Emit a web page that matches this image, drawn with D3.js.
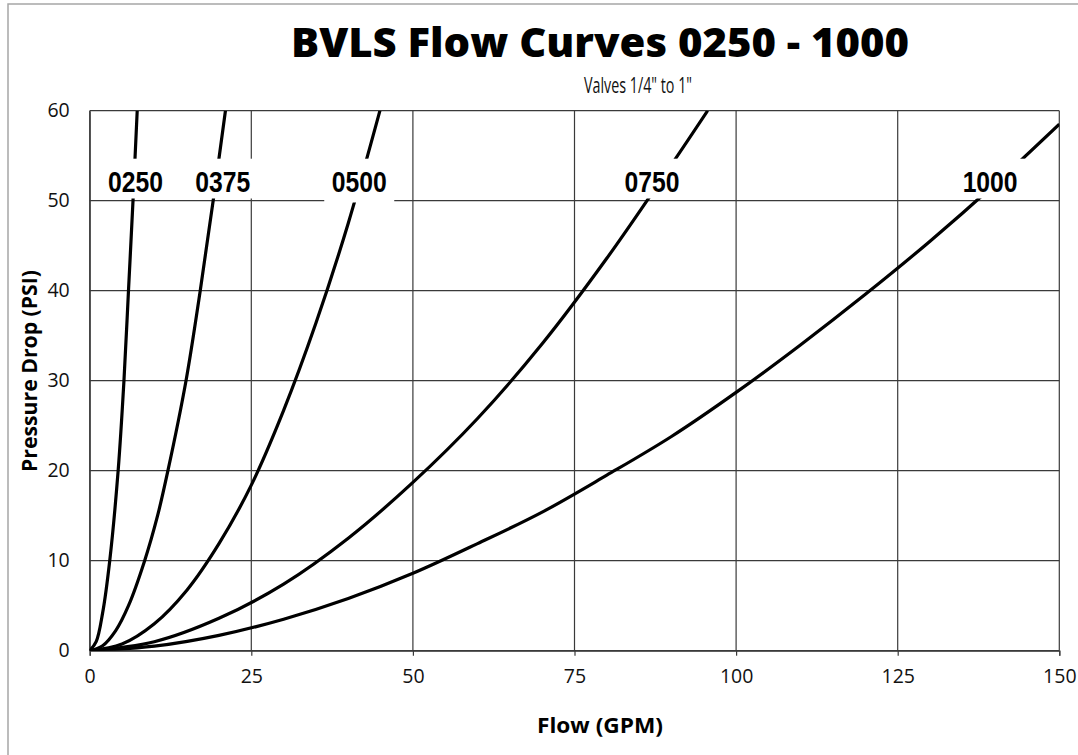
<!DOCTYPE html>
<html>
<head>
<meta charset="utf-8">
<script src="https://cdn.jsdelivr.net/npm/d3@7"></script>
<style>
  html, body { margin: 0; padding: 0; background: #fff; }
  svg { display: block; }
</style>
</head>
<body>
<svg id="chart" width="1078" height="755"></svg>
<script>
// ---------- data ----------
const xTicks = [0, 25, 50, 75, 100, 125, 150];
const yTicks = [0, 10, 20, 30, 40, 50, 60];

const valveNames = ["0250", "0375", "0500", "0750", "1000"];

// flow (GPM) / pressure drop (PSI)
const flow0250 = [0, 1, 2, 3.1, 4.4, 5.3, 6.0, 6.7, 7.35];
const psi0250  = [0, 1.0, 4.2, 10, 20, 30, 40, 50, 60];

const flow0375 = [0, 2, 4, 6, 8.5, 10.5, 12.1, 14.9, 17.1, 19.1, 21.0];
const psi0375  = [0, 0.55, 2.2, 5.0, 10, 15, 20, 30, 40, 50, 60];

const flow0500 = [0, 5, 10, 15, 20, 25, 30, 35, 40, 44.9];
const psi0500  = [0, 0.75, 3.0, 6.7, 11.9, 18.4, 26.7, 36.4, 47.5, 60];

const flow0750 = [0, 10, 20, 30, 40, 50, 60, 70, 80, 90, 95.6];
const psi0750  = [0, 1.0, 3.6, 7.4, 12.5, 18.7, 25.8, 34.1, 43.6, 54, 60];

const flow1000 = [0, 10, 20, 30, 40, 50, 60, 70, 80, 90, 100, 110, 120, 130, 140, 150];
const psi1000  = [0, 0.5, 1.7, 3.5, 5.8, 8.6, 11.9, 15.4, 19.5, 23.8, 28.7, 34.0, 39.6, 45.5, 51.8, 58.5];

// label anchors (in data units: flow, psi)
const labelFlow = [7.1, 20.6, 41.7, 87.0, 139.3];
const labelPsi  = [51, 51, 51, 51, 51];

const titleText = "BVLS Flow Curves 0250 - 1000";
const subtitleText = "Valves 1/4\" to 1\"";
const xTitle = "Flow (GPM)";
const yTitle = "Pressure Drop (PSI)";

// ---------- layout ----------
const svg = d3.select("#chart");
const plot = { left: 89.7, right: 1059.3, top: 110.7, bottom: 650.7 };

const x = d3.scaleLinear().domain([0, 150]).range([plot.left, plot.right]);
const y = d3.scaleLinear().domain([0, 60]).range([plot.bottom, plot.top]);

// outer frame
svg.append("rect")
  .attr("x", 8).attr("y", 4).attr("width", 1090).attr("height", 780)
  .attr("fill", "#fff").attr("stroke", "#a6a6a6").attr("stroke-width", 1.5);

// clip
svg.append("defs").append("clipPath").attr("id", "plotClip")
  .append("rect")
  .attr("x", plot.left).attr("y", plot.top)
  .attr("width", plot.right - plot.left).attr("height", plot.bottom - plot.top);

// gridlines
const grid = svg.append("g");
grid.selectAll("line.h").data(yTicks).join("line")
  .attr("class", "h")
  .attr("x1", plot.left).attr("x2", plot.right)
  .attr("y1", d => y(d)).attr("y2", d => y(d))
  .attr("stroke", "#3a3a3a").attr("stroke-width", 1.2);
grid.selectAll("line.v").data(xTicks).join("line")
  .attr("class", "v")
  .attr("y1", plot.top).attr("y2", plot.bottom)
  .attr("x1", d => x(d)).attr("x2", d => x(d))
  .attr("stroke", "#3a3a3a").attr("stroke-width", 1.2);

// axes
const tickFont = "'Open Sans', sans-serif";
const xAxis = svg.append("g")
  .attr("transform", `translate(0,${plot.bottom})`)
  .call(d3.axisBottom(x).tickValues(xTicks).tickSize(5).tickPadding(13));
xAxis.select(".domain").attr("stroke", "#3a3a3a").attr("stroke-width", 1.2);
xAxis.selectAll(".tick line").attr("stroke", "#3a3a3a").attr("stroke-width", 1.2);
xAxis.selectAll("text")
  .attr("font-family", tickFont).attr("font-size", 19.5)
  .attr("fill", "#111");

const yAxis = svg.append("g")
  .attr("transform", `translate(${plot.left},0)`)
  .call(d3.axisLeft(y).tickValues(yTicks).tickSize(0).tickPadding(20));
yAxis.select(".domain").attr("stroke", "#3a3a3a").attr("stroke-width", 1.2);
yAxis.selectAll("text")
  .attr("font-family", tickFont).attr("font-size", 19.5)
  .attr("fill", "#111");

// curves
const series = valveNames.map((name, i) => ({
  name,
  f: [flow0250, flow0375, flow0500, flow0750, flow1000][i],
  p: [psi0250, psi0375, psi0500, psi0750, psi1000][i]
}));
const line = d3.line()
  .x(d => x(d[0])).y(d => y(d[1]))
  .curve(d3.curveCatmullRom.alpha(0.5));

svg.append("g").attr("clip-path", "url(#plotClip)")
  .selectAll("path").data(series).join("path")
  .attr("d", s => line(s.f.map((v, i) => [v, s.p[i]])))
  .attr("fill", "none").attr("stroke", "#000").attr("stroke-width", 3.2)
  .attr("stroke-linecap", "butt");

// curve labels with white boxes
const labels = svg.append("g");
valveNames.forEach((name, i) => {
  const g = labels.append("g");
  const bx = x(labelFlow[i]);
  const by = y(labelPsi[i]);
  const boxW = 70;
  const boxBottom = name === "0500" ? 202.5 : 198.5;
  g.append("rect")
    .attr("x", bx - boxW / 2).attr("y", by - 33)
    .attr("width", boxW).attr("height", boxBottom - (by - 33))
    .attr("fill", "#fff");
  g.append("text")
    .attr("x", bx).attr("y", by)
    .attr("text-anchor", "middle")
    .attr("font-family", "'Liberation Sans', Arial, sans-serif")
    .attr("font-weight", "bold").attr("font-size", 30)
    .attr("textLength", 55).attr("lengthAdjust", "spacingAndGlyphs")
    .attr("fill", "#000")
    .text(name);
});

// titles
svg.append("text")
  .attr("x", 600).attr("y", 57)
  .attr("text-anchor", "middle")
  .attr("font-family", "'Open Sans', sans-serif").attr("font-weight", 800)
  .attr("font-size", 41)
  .attr("textLength", 618).attr("lengthAdjust", "spacingAndGlyphs")
  .attr("fill", "#000")
  .text(titleText);

svg.append("text")
  .attr("x", 638).attr("y", 93)
  .attr("text-anchor", "middle")
  .attr("font-family", "'Open Sans', sans-serif")
  .attr("font-size", 21.5)
  .attr("textLength", 108).attr("lengthAdjust", "spacingAndGlyphs")
  .attr("fill", "#111")
  .text(subtitleText);

svg.append("text")
  .attr("x", 600).attr("y", 733)
  .attr("text-anchor", "middle")
  .attr("font-family", "'Open Sans', sans-serif").attr("font-weight", 700)
  .attr("font-size", 21)
  .attr("textLength", 126).attr("lengthAdjust", "spacingAndGlyphs")
  .attr("fill", "#000")
  .text(xTitle);

svg.append("text")
  .attr("transform", "translate(37,371) rotate(-90)")
  .attr("text-anchor", "middle")
  .attr("font-family", "'Open Sans', sans-serif").attr("font-weight", 700)
  .attr("font-size", 20.5)
  .attr("textLength", 202).attr("lengthAdjust", "spacingAndGlyphs")
  .attr("fill", "#000")
  .text(yTitle);
</script>
</body>
</html>
